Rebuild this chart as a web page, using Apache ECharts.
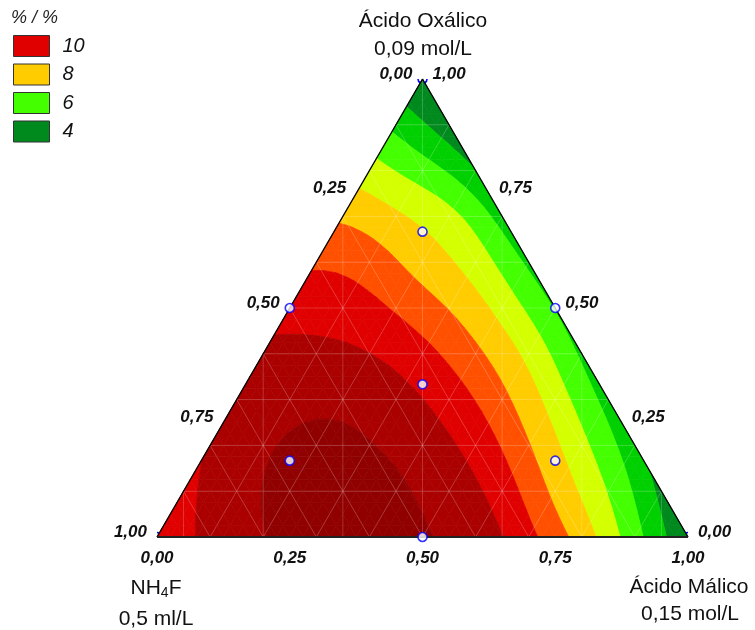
<!DOCTYPE html>
<html>
<head>
<meta charset="utf-8">
<script src="https://cdn.jsdelivr.net/npm/echarts@6/dist/echarts.min.js"></script>
<style>
html,body{margin:0;padding:0;background:#ffffff;}
#chart{width:755px;height:630px;}
</style>
</head>
<body>
<div id="chart"></div>
<script>
// Response (%) read on a ternary lattice, step 0.10.
// Row name = Oxálico fraction; entry j = Málico fraction j/10 (NH4F = remainder).
const respC00 = [10.55, 11.15, 12.0, 12.25, 12.3, 12.03, 11.63, 10.26, 8.6, 6.3, 4.1];
const respC01 = [10.7, 11.7, 12.25, 12.35, 12.2, 11.49, 10.65, 8.6, 7.0, 4.7];
const respC02 = [11.1, 11.9, 12.15, 12.0, 11.5, 10.7, 9.0, 7.3, 5.3];
const respC03 = [11.4, 11.75, 11.85, 11.45, 10.53, 9.26, 7.51, 5.6];
const respC04 = [11.3, 11.3, 11.02, 10.28, 9.23, 7.76, 5.8];
const respC05 = [10.5, 10.4, 9.9, 9.0, 7.57, 5.95];
const respC06 = [9.9, 9.7, 8.3, 7.58, 5.8];
const respC07 = [8.8, 8.1, 7.6, 5.5];
const respC08 = [7.45, 6.4, 5.0];
const respC09 = [5.7, 4.4];
const respC10 = [3.9];

// Contour bands: lower limits and colours
const bandLevels = [4, 5, 6, 7, 8, 9, 10, 11, 12];
const bandColors = ['#006b2d', '#008a1e', '#00d000', '#44ff00', '#d4ff00', '#ffcc00', '#ff5000', '#e00000', '#aa0000', '#900000'];
const legendLevels = ['10', '8', '6', '4'];

// Design points (mixture fractions)
const designNH4F    = [1, 0, 0, 0.5, 0.5, 0, 1/3, 2/3, 1/6, 1/6];
const designMalico  = [0, 1, 0, 0.5, 0, 0.5, 1/3, 1/6, 2/3, 1/6];
const designOxalico = [0, 0, 1, 0, 0.5, 0.5, 1/3, 1/6, 1/6, 2/3];

// Axis ticks
const tickValues = [0, 0.25, 0.5, 0.75, 1];
const tickLabels = ['0,00', '0,25', '0,50', '0,75', '1,00'];

const H = Math.sqrt(3) / 2;
const rows = [respC00, respC01, respC02, respC03, respC04, respC05, respC06, respC07, respC08, respC09, respC10];
function toXY(b, c) { return [b + c / 2, c * H]; }

const nodes = [];
rows.forEach((r, k) => r.forEach((v, j) => { const p = toXY(j / 10, k / 10); nodes.push([p[0], p[1], v]); }));

function solve(A, b) {
  const n = b.length;
  for (let i = 0; i < n; i++) {
    let m = i;
    for (let r = i + 1; r < n; r++) if (Math.abs(A[r][i]) > Math.abs(A[m][i])) m = r;
    [A[i], A[m]] = [A[m], A[i]]; [b[i], b[m]] = [b[m], b[i]];
    for (let r = i + 1; r < n; r++) {
      const f = A[r][i] / A[i][i];
      for (let c = i; c < n; c++) A[r][c] -= f * A[i][c];
      b[r] -= f * b[i];
    }
  }
  const x = new Array(n).fill(0);
  for (let i = n - 1; i >= 0; i--) {
    let s = b[i];
    for (let c = i + 1; c < n; c++) s -= A[i][c] * x[c];
    x[i] = s / A[i][i];
  }
  return x;
}
const SIG = 0.075;
function surf(x, y) {
  const A = Array.from({ length: 6 }, () => new Array(6).fill(0));
  const B = new Array(6).fill(0);
  nodes.forEach(nd => {
    const dx = nd[0] - x, dy = nd[1] - y;
    const w = Math.exp(-(dx * dx + dy * dy) / (2 * SIG * SIG));
    if (w < 1e-6) return;
    const f = [1, dx, dy, dx * dx, dx * dy, dy * dy];
    for (let i = 0; i < 6; i++) {
      B[i] += w * f[i] * nd[2];
      for (let j = 0; j < 6; j++) A[i][j] += w * f[i] * f[j];
    }
  });
  for (let i = 0; i < 6; i++) A[i][i] += 1e-9;
  return solve(A, B)[0];
}

const N = 40;
const fine = [];
for (let k = 0; k <= N; k++) {
  const r = [];
  for (let j = 0; j <= N - k; j++) {
    const p = toXY(j / N, k / N);
    r.push({ x: p[0], y: p[1], v: surf(p[0], p[1]) });
  }
  fine.push(r);
}
const tris = [];
for (let k = 0; k < N; k++) {
  for (let j = 0; j <= N - 1 - k; j++) {
    tris.push([fine[k][j], fine[k][j + 1], fine[k + 1][j]]);
    if (j <= N - 2 - k) tris.push([fine[k][j + 1], fine[k + 1][j + 1], fine[k + 1][j]]);
  }
}
function clip(poly, lvl, above) {
  const out = [];
  for (let i = 0; i < poly.length; i++) {
    const P = poly[i], Q = poly[(i + 1) % poly.length];
    const pin = above ? P.v >= lvl : P.v <= lvl;
    const qin = above ? Q.v >= lvl : Q.v <= lvl;
    if (pin) out.push(P);
    if (pin !== qin) {
      const t = (lvl - P.v) / (Q.v - P.v);
      out.push({ x: P.x + t * (Q.x - P.x), y: P.y + t * (Q.y - P.y), v: lvl });
    }
  }
  return out;
}
const bandPolys = bandColors.map((_, i) => {
  const lo = i === 0 ? -Infinity : bandLevels[i - 1];
  const hi = i === bandColors.length - 1 ? Infinity : bandLevels[i];
  const out = [];
  tris.forEach(t => {
    let p = t;
    if (isFinite(lo)) p = clip(p, lo, true);
    if (p.length >= 3 && isFinite(hi)) p = clip(p, hi, false);
    if (p.length >= 3) out.push(p);
  });
  return out;
});

const bandSeries = bandColors.map((col, i) => ({
  type: 'custom',
  name: i === 0 ? '3' : String(bandLevels[i - 1]),
  coordinateSystem: 'cartesian2d',
  silent: true,
  animation: false,
  z: 2,
  itemStyle: { color: col },
  data: bandPolys[i].map(p => [p[0].x, p[0].y]),
  renderItem: (params, api) => {
    const p = bandPolys[i][params.dataIndex];
    return {
      type: 'polygon',
      shape: { points: p.map(q => api.coord([q.x, q.y])) },
      style: { fill: col, stroke: col, lineWidth: 0.7 }
    };
  }
}));

const meshSegs = [];
for (let k = 1; k <= 9; k++) {
  const t = k / 10;
  meshSegs.push([t / 2, t * H, 1 - t / 2, t * H]);
  meshSegs.push([t, 0, t + (1 - t) / 2, (1 - t) * H]);
  meshSegs.push([1 - t, 0, (1 - t) / 2, (1 - t) * H]);
}
[-3, -2, -1, 0, 1, 2, 3].forEach(m => {
  const x = 0.5 + 0.15 * m;
  const top = x < 0.5 ? 2 * x * H : 2 * (1 - x) * H;
  meshSegs.push([x, 0, x, top]);
});

const tickItems = [];
tickValues.forEach((t, i) => {
  const pb = toXY(t, 0);
  tickItems.push([pb[0], pb[1], 0, i]);
  const pl = toXY(0, 1 - t);
  tickItems.push([pl[0], pl[1], 1, i]);
  const pr = toXY(1 - t, t);
  tickItems.push([pr[0], pr[1], 2, i]);
});

const ptsInner = [], ptsVertex = [];
designNH4F.forEach((a, i) => {
  const p = toXY(designMalico[i], designOxalico[i]);
  if (Math.max(a, designMalico[i], designOxalico[i]) >= 0.999) ptsVertex.push(p); else ptsInner.push(p);
});
// vertex markers are hidden by the filled triangle: only the arc parts inside the plot box but outside the triangle show
function vertexArcs(p) {
  if (p[1] > 0.5) return [[0, 60], [120, 180]];   // apex
  if (p[0] < 0.5) return [[-90, -60]];            // bottom-left
  return [[-120, -90]];                            // bottom-right
}

const FONT = '"Liberation Sans", Arial, Helvetica, sans-serif';
const chart = echarts.init(document.getElementById('chart'), null, { renderer: 'canvas' });
chart.setOption({
  animation: false,
  backgroundColor: '#ffffff',
  title: {
    text: '% / %', left: 11, top: 9, padding: 0,
    textStyle: { fontSize: 18, fontStyle: 'italic', fontWeight: 'normal', fontFamily: FONT, color: '#222' }
  },
  legend: {
    orient: 'vertical', left: 13, top: 35, padding: 0,
    itemWidth: 36, itemHeight: 21, itemGap: 6.5, icon: 'rect', selectedMode: false,
    data: legendLevels.map(n => ({ name: n, itemStyle: { borderColor: '#333', borderWidth: 1 } })),
    textStyle: { fontSize: 20, fontStyle: 'italic', fontFamily: FONT, color: '#111', padding: [0, 0, 0, 8] }
  },
  grid: { left: 157, top: 79, width: 531, height: 458, containLabel: false },
  xAxis: { type: 'value', min: 0, max: 1, show: false },
  yAxis: { type: 'value', min: 0, max: H, show: false },
  graphic: [
    { type: 'text', x: 423, y: 21, style: { text: 'Ácido Oxálico', fill: '#111', fontSize: 21, fontFamily: FONT, align: 'center', verticalAlign: 'middle' } },
    { type: 'text', x: 423, y: 49, style: { text: '0,09 mol/L', fill: '#111', fontSize: 21, fontFamily: FONT, align: 'center', verticalAlign: 'middle' } },
    { type: 'text', x: 156, y: 588, style: { text: '{n|NH}{s|4}{n|F}', align: 'center', verticalAlign: 'middle',
        rich: { n: { fontSize: 21, fontFamily: FONT, fill: '#111', lineHeight: 24 }, s: { fontSize: 14, fontFamily: FONT, fill: '#111', lineHeight: 14, verticalAlign: 'bottom' } } } },
    { type: 'text', x: 156, y: 619, style: { text: '0,5 ml/L', fill: '#111', fontSize: 21, fontFamily: FONT, align: 'center', verticalAlign: 'middle' } },
    { type: 'text', x: 689, y: 587, style: { text: 'Ácido Málico', fill: '#111', fontSize: 21, fontFamily: FONT, align: 'center', verticalAlign: 'middle' } },
    { type: 'text', x: 690, y: 614, style: { text: '0,15 mol/L', fill: '#111', fontSize: 21, fontFamily: FONT, align: 'center', verticalAlign: 'middle' } }
  ],
  series: [
    ...bandSeries,
    {
      type: 'custom', name: 'mesh', coordinateSystem: 'cartesian2d', silent: true, z: 3,
      data: meshSegs,
      renderItem: (params, api) => {
        const s = meshSegs[params.dataIndex];
        const p1 = api.coord([s[0], s[1]]), p2 = api.coord([s[2], s[3]]);
        return { type: 'line', shape: { x1: p1[0], y1: p1[1], x2: p2[0], y2: p2[1] },
          style: { stroke: 'rgba(255,255,255,0.25)', lineWidth: 0.8 } };
      }
    },
    {
      type: 'custom', name: 'vertices', coordinateSystem: 'cartesian2d', silent: true, z: 4,
      data: ptsVertex,
      renderItem: (params, api) => {
        const v = ptsVertex[params.dataIndex];
        const p = api.coord(v);
        return { type: 'group', children: vertexArcs(v).map(r => ({
          type: 'arc',
          shape: { cx: p[0], cy: p[1], r: 4.5, startAngle: r[0] * Math.PI / 180, endAngle: r[1] * Math.PI / 180, clockwise: true },
          style: { stroke: '#0000ff', lineWidth: 1.6, fill: null }
        })) };
      }
    },
    {
      type: 'line', name: 'outline', data: [[0, 0], [0.5, H], [1, 0]], z: 5, silent: true,
      symbol: 'none', lineStyle: { color: '#000', width: 1.4 }
    },
    {
      type: 'line', name: 'base', data: [[0, 0], [1, 0]], z: 5, silent: true,
      symbol: 'none', lineStyle: { color: '#222', width: 2 }
    },
    {
      type: 'scatter', name: 'design', data: ptsInner, z: 6, silent: true,
      symbol: 'circle', symbolSize: 9,
      itemStyle: { color: '#ffffff', borderColor: '#0000ff', borderWidth: 1.6 }
    },
    {
      type: 'custom', name: 'ticks', coordinateSystem: 'cartesian2d', silent: true, z: 7,
      data: tickItems,
      renderItem: (params, api) => {
        const d = tickItems[params.dataIndex];
        const p = api.coord([d[0], d[1]]);
        let x = p[0], y = p[1], align = 'center';
        if (d[2] === 0) { y += 21; }
        else if (d[2] === 1) { x -= 10; y -= 5; align = 'right'; }
        else { x += 10; y -= 5; align = 'left'; }
        return { type: 'text', x: x, y: y,
          style: { text: tickLabels[d[3]], fill: '#111', fontSize: 17, fontWeight: 'bold', fontStyle: 'italic',
            fontFamily: FONT, align: align, verticalAlign: 'middle' } };
      }
    }
  ]
});
</script>
</body>
</html>
